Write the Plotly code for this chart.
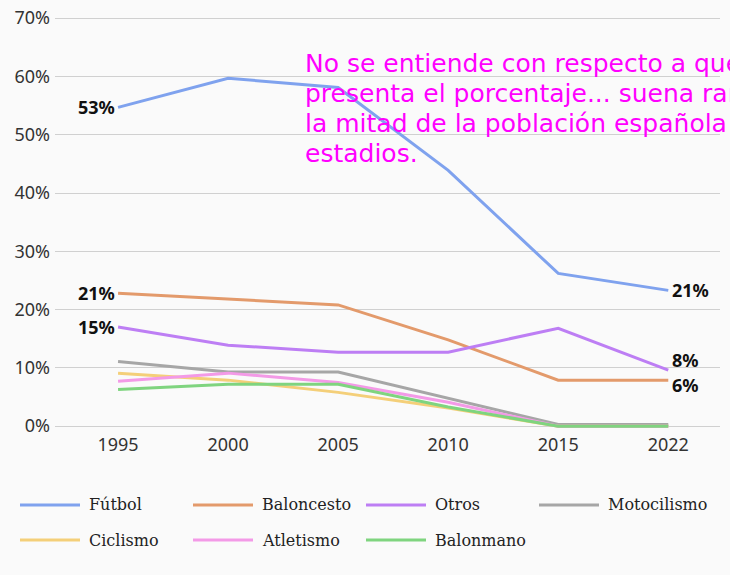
import plotly.graph_objects as go

# Data
years = ["1995", "2000", "2005", "2010", "2015", "2022"]
futbol = [0.547, 0.597, 0.581, 0.439, 0.262, 0.233]
baloncesto = [0.228, 0.218, 0.208, 0.148, 0.079, 0.079]
otros = [0.170, 0.139, 0.127, 0.127, 0.168, 0.096]
motocilismo = [0.111, 0.093, 0.093, 0.048, 0.003, 0.003]
ciclismo = [0.091, 0.079, 0.058, 0.031, 0.0, 0.0]
atletismo = [0.077, 0.091, 0.075, 0.041, 0.0, 0.0]
balonmano = [0.063, 0.072, 0.072, 0.033, 0.0, 0.0]

series = [
    ("Fútbol", futbol, "#7fa2ee"),
    ("Baloncesto", baloncesto, "#e39a6b"),
    ("Otros", otros, "#bd7ef4"),
    ("Motocilismo", motocilismo, "#a6a6a6"),
    ("Ciclismo", ciclismo, "#f4cf79"),
    ("Atletismo", atletismo, "#f39ae7"),
    ("Balonmano", balonmano, "#7fd47f"),
]

# Labels as printed on the chart
start_labels = [("53%", futbol), ("21%", baloncesto), ("15%", otros)]
end_labels = [("21%", futbol, 0), ("8%", otros, 10), ("6%", baloncesto, -5)]

note_lines = [
    "No se entiende con respecto a qué re",
    "presenta el porcentaje... suena raro que",
    "la mitad de la población española vaya a",
    "estadios.",
]

W, H = 730, 575
L, R, T, B = 55, 10, 17, 143
PW, PH = W - L - R, H - T - B


def px(x):
    return (x - L) / PW


def py(y):
    return (H - B - y) / PH


fig = go.Figure()
for name, vals, color in series:
    fig.add_trace(go.Scatter(
        x=years, y=vals, name=name, mode="lines",
        line=dict(color=color, width=3),
    ))

label_font = dict(family="Noto Sans", size=18, color="#111111")
annotations = []
for txt, vals in start_labels:
    annotations.append(dict(x=0, y=vals[0], text="<b>" + txt + "</b>", showarrow=False,
                            xanchor="right", xshift=-1, font=label_font))
for txt, vals, ys in end_labels:
    annotations.append(dict(x=len(years) - 1, y=vals[-1], text="<b>" + txt + "</b>",
                            showarrow=False, xanchor="left", xshift=2, yshift=ys,
                            font=label_font))

# magenta comment, one line per annotation (30px leading)
for i, line in enumerate(note_lines):
    annotations.append(dict(xref="paper", yref="paper", x=px(303), y=py(47 + 30 * i),
                            text=line, showarrow=False, xanchor="left", yanchor="top",
                            font=dict(family="DejaVu Sans", size=25, color="#ff00ff")))

# legend below the plot, 4 items per row
shapes = []
for i, (name, vals, color) in enumerate(series):
    x0 = 20 + (i % 4) * 173
    y0 = 505 + (i // 4) * 35
    shapes.append(dict(type="line", xref="paper", yref="paper",
                       x0=px(x0), x1=px(x0 + 60), y0=py(y0), y1=py(y0),
                       line=dict(color=color, width=3)))
    annotations.append(dict(xref="paper", yref="paper", x=px(x0 + 67), y=py(y0),
                            text=name, showarrow=False, xanchor="left", yanchor="middle",
                            font=dict(family="DejaVu Serif", size=16, color="#222222")))

fig.update_layout(
    width=W, height=H,
    margin=dict(l=L, r=R, t=T, b=B, autoexpand=False),
    paper_bgcolor="#fafafa", plot_bgcolor="#fafafa",
    showlegend=False,
    xaxis=dict(type="category", range=[-0.573, 5.47], showgrid=False, showline=False,
               automargin=False, ticks="",
               tickfont=dict(family="Noto Sans", size=18, color="#333333")),
    yaxis=dict(range=[-0.01, 0.702], tickvals=[0, 0.1, 0.2, 0.3, 0.4, 0.5, 0.6, 0.7],
               tickformat=".0%", gridcolor="#d0d0d0", zeroline=False, automargin=False,
               ticklabelstandoff=4,
               tickfont=dict(family="Noto Sans", size=18, color="#333333")),
    shapes=shapes,
    annotations=annotations,
)

fig.write_html("out.html", config={"displayModeBar": False},
               post_script="document.body.style.margin='0';")
